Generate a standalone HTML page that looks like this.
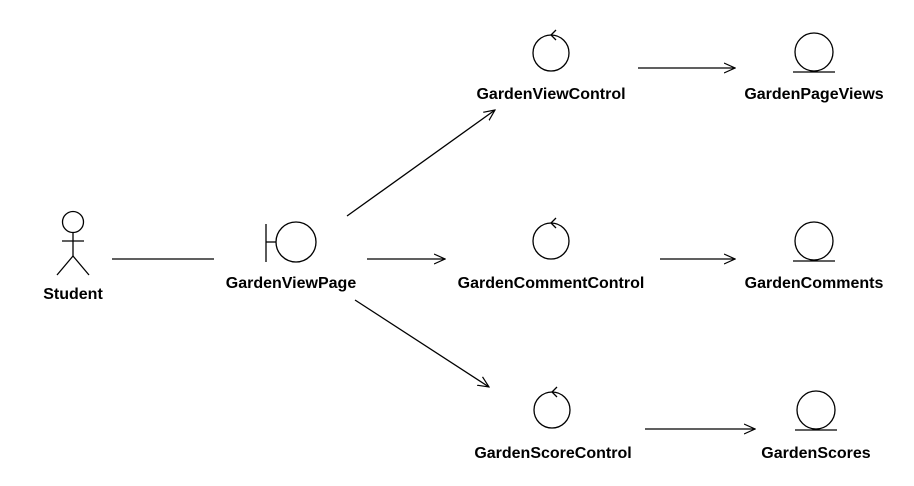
<!DOCTYPE html>
<html><head><meta charset="utf-8"><style>
html,body{margin:0;padding:0;background:#fff;width:914px;height:486px;overflow:hidden}
text{font-family:"Liberation Sans",Arial,sans-serif;font-weight:bold;font-size:16px;fill:#000}
</style></head><body>
<svg width="914" height="486" viewBox="0 0 914 486" xmlns="http://www.w3.org/2000/svg">
<defs><marker id="a" viewBox="0 0 12 12" refX="11" refY="6" markerWidth="12" markerHeight="12" markerUnits="userSpaceOnUse" orient="auto"><path d="M0,1 L11,6 L0,11" fill="none" stroke="#000" stroke-width="1.2"/></marker></defs>
<g stroke="#000" stroke-width="1.3" fill="none">
<!-- actor -->
<circle cx="73" cy="222" r="10.5"/>
<line x1="73" y1="232.5" x2="73" y2="256"/>
<line x1="62" y1="241" x2="84" y2="241"/>
<line x1="73" y1="256" x2="57" y2="275"/>
<line x1="73" y1="256" x2="89" y2="275"/>
<line x1="112" y1="259" x2="214" y2="259"/>
<!-- boundary -->
<line x1="266" y1="224" x2="266" y2="262"/>
<line x1="266" y1="242" x2="276" y2="242"/>
<circle cx="296" cy="242" r="20"/>
<!-- controls -->
<circle cx="551" cy="53" r="18"/><path d="M556,30 L551,35 L556,40"/>
<circle cx="551" cy="241" r="18"/><path d="M556,218 L551,223 L556,228"/>
<circle cx="552" cy="410" r="18"/><path d="M557,387 L552,392 L557,397"/>
<!-- entities -->
<circle cx="814" cy="52" r="19"/><line x1="793" y1="72" x2="835" y2="72"/>
<circle cx="814" cy="241" r="19"/><line x1="793" y1="261" x2="835" y2="261"/>
<circle cx="816" cy="410" r="19"/><line x1="795" y1="430" x2="837" y2="430"/>
<!-- arrows -->
<line x1="638" y1="68" x2="735" y2="68" marker-end="url(#a)"/>
<line x1="367" y1="259" x2="445" y2="259" marker-end="url(#a)"/>
<line x1="660" y1="259" x2="735" y2="259" marker-end="url(#a)"/>
<line x1="645" y1="429" x2="755" y2="429" marker-end="url(#a)"/>
<line x1="347" y1="216" x2="495" y2="110" marker-end="url(#a)"/>
<line x1="355" y1="300" x2="489" y2="387" marker-end="url(#a)"/>
</g>
<g text-anchor="middle">
<text x="73" y="299">Student</text>
<text x="291" y="288">GardenViewPage</text>
<text x="551" y="99">GardenViewControl</text>
<text x="814" y="99">GardenPageViews</text>
<text x="551" y="288">GardenCommentControl</text>
<text x="814" y="288">GardenComments</text>
<text x="553" y="458">GardenScoreControl</text>
<text x="816" y="458">GardenScores</text>
</g>
</svg>
</body></html>
